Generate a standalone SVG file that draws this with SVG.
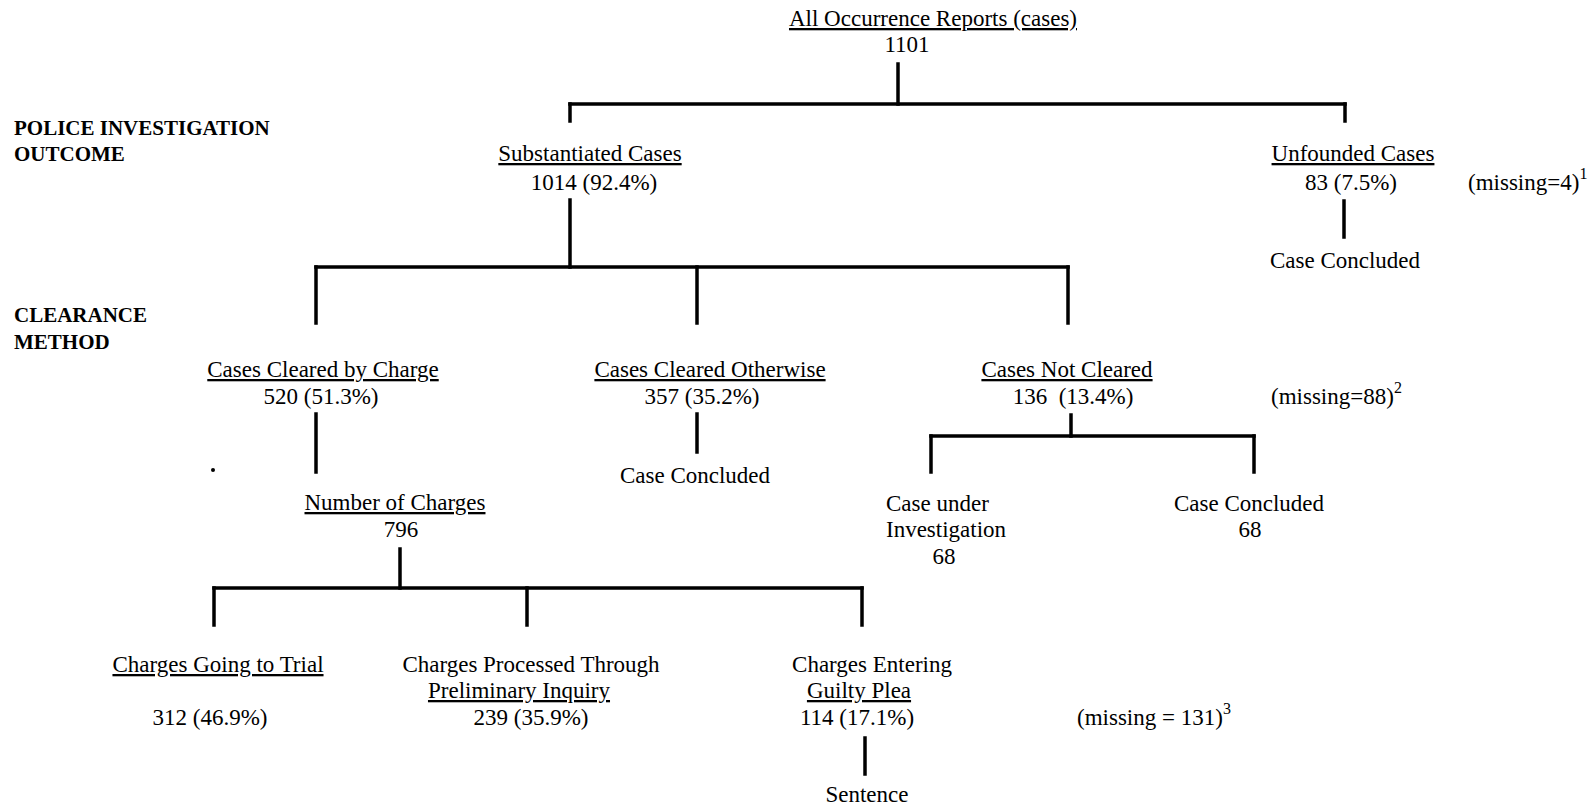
<svg xmlns="http://www.w3.org/2000/svg" width="1589" height="810" viewBox="0 0 1589 810">
<style>
text{font-family:"Liberation Serif","Times New Roman",serif;font-size:23px;fill:#000}
.c{text-anchor:middle}
.u{text-decoration:underline;text-decoration-thickness:2px}
.b{font-weight:bold;font-size:21px}
.sup{font-size:16px}
#connectors line{stroke:#000;stroke-width:3.5;stroke-linecap:square}
</style>
<rect width="1589" height="810" fill="#fff"/>
<g id="connectors">
<line x1="898" y1="64" x2="898" y2="104"/>
<line x1="570" y1="104" x2="1345" y2="104"/>
<line x1="570" y1="104" x2="570" y2="121"/>
<line x1="1345" y1="104" x2="1345" y2="121"/>
<line x1="1344" y1="201" x2="1344" y2="237"/>
<line x1="570" y1="200" x2="570" y2="267"/>
<line x1="316" y1="267" x2="1068" y2="267"/>
<line x1="316" y1="267" x2="316" y2="323"/>
<line x1="697" y1="267" x2="697" y2="323"/>
<line x1="1068" y1="267" x2="1068" y2="323"/>
<line x1="316" y1="414" x2="316" y2="472"/>
<line x1="697" y1="414" x2="697" y2="452"/>
<line x1="1071" y1="415" x2="1071" y2="436"/>
<line x1="931" y1="436" x2="1254" y2="436"/>
<line x1="931" y1="436" x2="931" y2="472"/>
<line x1="1254" y1="436" x2="1254" y2="472"/>
<line x1="400" y1="549" x2="400" y2="588"/>
<line x1="214" y1="588" x2="862" y2="588"/>
<line x1="214" y1="588" x2="214" y2="625"/>
<line x1="527" y1="588" x2="527" y2="625"/>
<line x1="862" y1="588" x2="862" y2="625"/>
<line x1="865" y1="738" x2="865" y2="774"/>
</g>
<circle cx="213" cy="470" r="2" fill="#000"/>
<g id="label-police">
<text class="b" x="14" y="135">POLICE INVESTIGATION</text>
<text class="b" x="14" y="161">OUTCOME</text>
</g>
<g id="label-clearance">
<text class="b" x="14" y="322">CLEARANCE</text>
<text class="b" x="14" y="349">METHOD</text>
</g>
<g id="all-reports">
<text class="c u" x="933" y="26">All Occurrence Reports (cases)</text>
<text class="c" x="907" y="52">1101</text>
</g>
<g id="substantiated">
<text class="c u" x="590" y="161">Substantiated Cases</text>
<text class="c" x="594" y="190">1014 (92.4%)</text>
</g>
<g id="unfounded">
<text class="c u" x="1353" y="161">Unfounded Cases</text>
<text class="c" x="1351" y="190">83 (7.5%)</text>
</g>
<g id="missing-1">
<text x="1468" y="190">(missing=4)<tspan class="sup" dy="-11">1</tspan></text>
</g>
<g id="unfounded-concluded">
<text class="c" x="1345" y="268">Case Concluded</text>
</g>
<g id="cleared-charge">
<text class="c u" x="323" y="377">Cases Cleared by Charge</text>
<text class="c" x="321" y="404">520 (51.3%)</text>
</g>
<g id="cleared-otherwise">
<text class="c u" x="710" y="377">Cases Cleared Otherwise</text>
<text class="c" x="702" y="404">357 (35.2%)</text>
</g>
<g id="otherwise-concluded">
<text class="c" x="695" y="483">Case Concluded</text>
</g>
<g id="not-cleared">
<text class="c u" x="1067" y="377">Cases Not Cleared</text>
<text class="c" x="1073" y="404" xml:space="preserve">136  (13.4%)</text>
</g>
<g id="missing-2">
<text x="1271" y="404">(missing=88)<tspan class="sup" dy="-11">2</tspan></text>
</g>
<g id="under-investigation">
<text x="886" y="511">Case under</text>
<text x="886" y="537">Investigation</text>
<text class="c" x="944" y="564">68</text>
</g>
<g id="not-cleared-concluded">
<text class="c" x="1249" y="511">Case Concluded</text>
<text class="c" x="1250" y="537">68</text>
</g>
<g id="number-of-charges">
<text class="c u" x="395" y="510">Number of Charges</text>
<text class="c" x="401" y="537">796</text>
</g>
<g id="trial">
<text class="c u" x="218" y="672">Charges Going to Trial</text>
<text class="c" x="210" y="725">312 (46.9%)</text>
</g>
<g id="preliminary">
<text class="c" x="531" y="672">Charges Processed Through</text>
<text class="c u" x="519" y="698">Preliminary Inquiry</text>
<text class="c" x="531" y="725">239 (35.9%)</text>
</g>
<g id="guilty-plea">
<text class="c" x="872" y="672">Charges Entering</text>
<text class="c u" x="859" y="698">Guilty Plea</text>
<text class="c" x="857" y="725">114 (17.1%)</text>
</g>
<g id="missing-3">
<text x="1077" y="725">(missing = 131)<tspan class="sup" dy="-11">3</tspan></text>
</g>
<g id="sentence">
<text class="c" x="867" y="802">Sentence</text>
</g>
</svg>
